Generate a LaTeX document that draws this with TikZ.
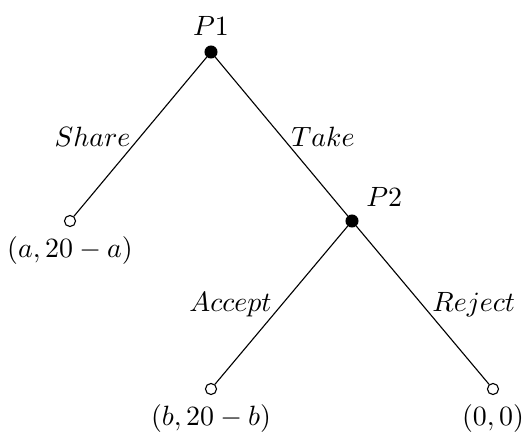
\documentclass[tikz,border=0pt]{standalone}
\begin{document}
\begin{tikzpicture}[x=0.0126cm,y=-0.0126cm,player/.style={draw,circle,fill=black,inner sep=0pt,minimum size=1.5mm},payoff/.style={draw,circle,fill=white,inner sep=0pt,minimum size=1.4mm}]
\useasboundingbox (0,0) rectangle (523,435);
\node[player,label=above:{$P1$}] (p1) at (211,52) {};
\node[player,label=above right:{$P2$}] (p2) at (352,221) {};
\node[payoff,label=below:{$(a,20-a)$}] (share) at (70,221) {};
\node[payoff,label=below:{$(b,20-b)$}] (accept) at (211,389) {};
\node[payoff,label=below:{$(0,0)$}] (reject) at (493,389) {};
\draw (p1)--(share) node[midway,left] {$Share$};
\draw (p1)--(p2) node[midway,right] {$Take$};
\draw (p2)--(accept) node[midway,left] {$Accept$};
\draw (p2)--(reject) node[midway,right] {$Reject$};
\end{tikzpicture}
\end{document}
